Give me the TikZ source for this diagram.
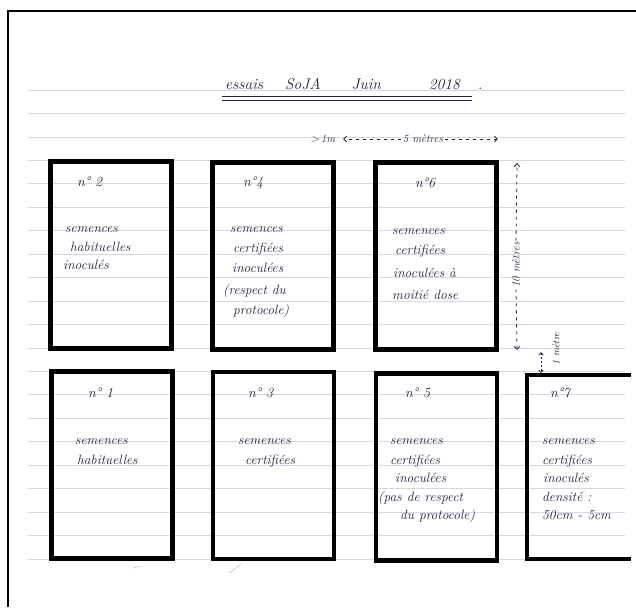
\documentclass[tikz,border=0pt]{standalone}
\usepackage{fontspec}
\usetikzlibrary{arrows.meta}
\definecolor{ink}{rgb}{0.12,0.12,0.26}
\definecolor{rulecol}{rgb}{0.84,0.84,0.91}
\newcommand{\handfnt}{\fontsize{13.5}{15}\selectfont\itshape\addfontfeatures{LetterSpace=1.5}\spaceskip=5pt\relax}
\newcommand{\numfnt}{\fontsize{14}{16}\selectfont\itshape\spaceskip=5pt\relax}
\begin{document}
\begin{tikzpicture}[x=1pt,y=-1pt,
  plotbox/.style={draw=black, line width=4.2pt, minimum width=121pt, minimum height=187pt, inner sep=0pt},
  plotline/.style={draw=black, line width=4.2pt},
  hand/.style={font=\handfnt, text=ink, inner sep=0pt, anchor=base west},
  numtxt/.style={font=\numfnt, text=ink, inner sep=0pt, anchor=base west},
  dimtxt/.style={font=\fontsize{11}{13}\selectfont\itshape, text=ink, inner sep=1.5pt},
  dim/.style={draw=ink, line width=0.8pt, dash pattern=on 3pt off 4pt, arrows={-Straight Barb[length=3pt,width=5.5pt]}},
  rule/.style={draw=rulecol, line width=0.8pt}
]
\useasboundingbox (0,0) rectangle (636,607);
\fill[white] (0,0) rectangle (636,607);
% ruled lines
\foreach \k in {0,...,20}{
  \pgfmathsetmacro{\yy}{90+23.45*\k}
  \draw[rule] (28,\yy) -- (625,\yy);
}
% frame
\draw[line width=1.3pt] (8,607) -- (8,11) -- (636,11);

% title
\node[font=\fontsize{15.5}{17}\selectfont\itshape, text=ink, inner sep=0pt, anchor=base west] (title) at (225,89)
  {essais\hspace{22pt}SoJA\hspace{31pt}Juin\hspace{48pt}2018\hspace{18pt}.};
\coordinate (u1a) at (222,97); \coordinate (u1b) at (472,97);
\coordinate (u2a) at (222,101); \coordinate (u2b) at (472,101);
\draw[ink, line width=1pt] (u1a) -- (u1b);
\draw[ink, line width=1pt] (u2a) -- (u2b);

% horizontal dimensions
\node[dimtxt, anchor=base west] (m1) at (309,142) {\textgreater\,1m};
\node[dimtxt, anchor=base] (m5) at (423,142) {5 mètres};
\coordinate (l5) at (343,139); \coordinate (r5) at (498,139);
\draw[dim] (m5.west |- l5) -- (l5);
\draw[dim] (m5.east |- r5) -- (r5);

% plots top row
\node[plotbox] (p2) at (111,255) {};
\node[plotbox] (p4) at (273,256) {};
\node[plotbox] (p6) at (436,256) {};
% plots bottom row
\node[plotbox] (p1) at (112,465) {};
\node[plotbox] (p3) at (273.5,465.5) {};
\node[plotbox] (p5) at (436.5,467) {};
\coordinate (p7a) at (631,375); \coordinate (p7b) at (527,375);
\coordinate (p7c) at (527,559); \coordinate (p7d) at (631,559);
\draw[plotline] (p7a) -- (p7b) -- (p7c) -- (p7d);

% vertical dimension 10 metres
\node[dimtxt, rotate=90] (m10) at (516,265) {10 mètres};
\coordinate (a10) at (517,163); \coordinate (b10) at (517,350);
\draw[dim] (m10.east) -- (a10);
\draw[dim] (m10.west) -- (b10);
% vertical dimension 1 metre
\node[dimtxt, rotate=90, font=\fontsize{10}{12}\selectfont\itshape] (mm1) at (556,349) {1 mètre};
\coordinate (a1) at (541,352); \coordinate (b1) at (541,373);
\draw[dim, dash pattern=on 2pt off 2pt, arrows={Straight Barb[length=2.5pt,width=4.5pt]-Straight Barb[length=2.5pt,width=4.5pt]}] (a1) -- (b1);

% texts n2
\node[numtxt] (t2) at (77,186) {n° 2};
\node[hand] (t2a) at (65,232) {semences};
\node[hand] (t2b) at (70,251) {habituelles};
\node[hand] (t2c) at (63,269) {inoculés};
% n4
\node[numtxt] (t4) at (243,186) {n°4};
\node[hand] (t4a) at (230,232) {semences};
\node[hand] (t4b) at (233,252) {certifiées};
\node[hand] (t4c) at (232,272) {inoculées};
\node[hand] (t4d) at (223,294) {(respect du};
\node[hand] (t4e) at (233,314) {protocole)};
% n6
\node[numtxt] (t6) at (415,187) {n°6};
\node[hand] (t6a) at (392,234) {semences};
\node[hand] (t6b) at (395,254) {certifiées};
\node[hand] (t6c) at (393,277) {inoculées à};
\node[hand] (t6d) at (392,299) {moitié dose};
% n1
\node[numtxt] (t1) at (88,397) {n° 1};
\node[hand] (t1a) at (75,444) {semences};
\node[hand] (t1b) at (77,464) {habituelles};
% n3
\node[numtxt] (t3) at (248,397) {n° 3};
\node[hand] (t3a) at (238,444) {semences};
\node[hand] (t3b) at (245,464) {certifiées};
% n5
\node[numtxt] (t5) at (405,397) {n° 5};
\node[hand] (t5a) at (390,444) {semences};
\node[hand] (t5b) at (390,464) {certifiées};
\node[hand] (t5c) at (395,482) {inoculées};
\node[hand] (t5d) at (378,501) {(pas de respect};
\node[hand] (t5e) at (400,519) {du protocole)};
% n7
\node[numtxt] (t7) at (550,397) {n°7};
\node[hand] (t7a) at (542,444) {semences};
\node[hand] (t7b) at (542,464) {certifiées};
\node[hand] (t7c) at (543,482) {inoculés};
\node[hand] (t7d) at (542,501) {densité :};
\node[hand] (t7e) at (542,519) {50cm - 5cm};

% faint stray marks
\coordinate (s1a) at (133,568); \coordinate (s1b) at (141,566);
\coordinate (s2a) at (229,573); \coordinate (s2b) at (241,564);
\draw[gray!45, line width=0.6pt] (s1a) -- (s1b);
\draw[gray!45, line width=0.6pt] (s2a) -- (s2b);
\end{tikzpicture}
\end{document}
